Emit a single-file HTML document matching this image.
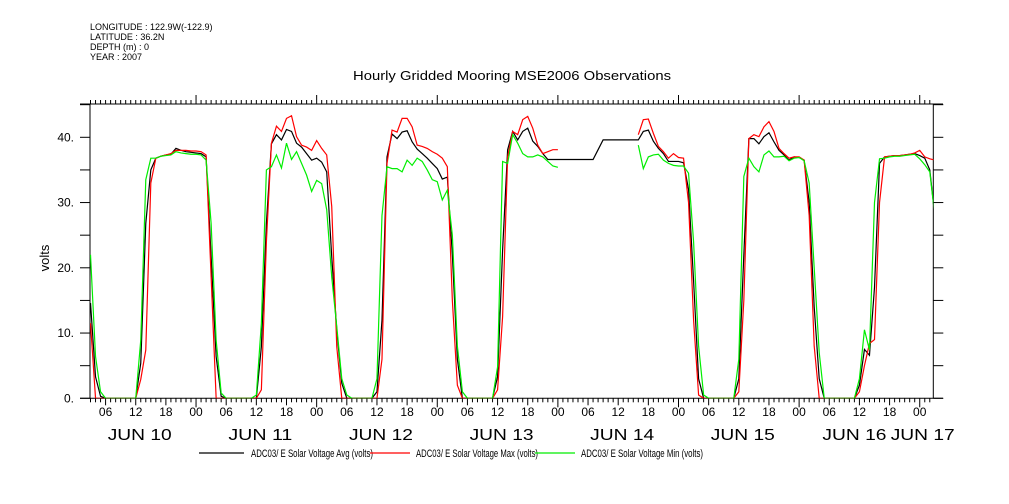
<!DOCTYPE html>
<html><head><meta charset="utf-8"><style>
html,body{margin:0;padding:0;background:#fff;}
svg{display:block;font-family:"Liberation Sans",sans-serif;}
</style></head><body>
<svg id="chart" width="1009" height="504" viewBox="0 0 1009 504" xmlns="http://www.w3.org/2000/svg">
<g font-size="9" fill="#000">
<text x="90" y="30">LONGITUDE : 122.9W(-122.9)</text>
<text x="90" y="40">LATITUDE : 36.2N</text>
<text x="90" y="50">DEPTH (m) : 0</text>
<text x="90" y="60">YEAR : 2007</text>
</g>
<text x="353" y="80" font-size="13" textLength="318" lengthAdjust="spacingAndGlyphs">Hourly Gridded Mooring MSE2006 Observations</text>
<text transform="translate(49,258) rotate(-90)" text-anchor="middle" font-size="13">volts</text>
<defs><clipPath id="plotclip"><rect x="90" y="104" width="843.3" height="294.3"/></clipPath></defs>
<g id="axes"></g>
<g id="series" clip-path="url(#plotclip)"></g>
<g font-size="11">
<line x1="199" y1="453" x2="244" y2="453" stroke="#000" stroke-width="1.3"/>
<text x="251" y="457" textLength="122" lengthAdjust="spacingAndGlyphs">ADC03/ E Solar Voltage Avg (volts)</text>
<line x1="370" y1="453" x2="410" y2="453" stroke="#f00" stroke-width="1.3"/>
<text x="416" y="457" textLength="122" lengthAdjust="spacingAndGlyphs">ADC03/ E Solar Voltage Max (volts)</text>
<line x1="535" y1="453" x2="575" y2="453" stroke="#0e0" stroke-width="1.3"/>
<text x="581" y="457" textLength="122" lengthAdjust="spacingAndGlyphs">ADC03/ E Solar Voltage Min (volts)</text>
</g>
</svg>
<script>
const startHour = 0; // hours since JUN 10 00:00 of first value; one row per day
const avgValues = [
null,null,null,14.6,3.3,0.3,0,0,0,0,0,0,0,5.4,26.8,35,36.8,37.1,37.3,37.4,38.3,38.0,37.8,37.7,
37.6,37.5,37.0,21.7,6.4,0.3,0,0,0,0,0,0,0,7.9,26.8,39.0,40.4,39.6,41.2,40.9,39.1,38.5,37.5,36.5,
36.8,36.2,34.7,21.7,10.5,2.3,0,0,0,0,0,0,1,12,37,40.5,39.8,40.8,41.0,39.3,38.2,37.5,36.8,36.0,
35.2,33.6,33.9,22,6,0,0,0,0,0,0,0,3.3,22.7,38.1,40.9,39.6,40.9,41.4,39.4,38.6,37.5,36.6,36.6,
36.6,36.6,36.6,36.6,36.6,36.6,36.6,36.6,38.1,39.6,39.6,39.6,39.6,39.6,39.6,39.6,39.6,40.9,41.1,39.4,38.3,37.5,36.3,36.3,
36.3,36.1,32,18,3,0,0,0,0,0,0,0,3,22,39.8,39.8,39.0,40.1,40.7,39.3,38.0,37.3,36.5,37.0,
36.9,36.5,30,14,3,0,0,0,0,0,0,0,2,7.5,6.6,17,36,37,37.1,37.2,37.2,37.3,37.4,37.5,
37.2,36.8,35.0,28];
const maxValues = [
null,null,null,11.5,0,0,0,0,0,0,0,0,0,2.9,7.4,33,36.8,37.1,37.3,37.5,38.0,38.0,38.0,37.9,
37.9,37.8,37.3,18.6,0,0,0,0,0,0,0,0,0,1.3,24,39.1,41.7,40.9,42.9,43.3,40.1,38.8,38.5,38.0,
39.5,38.3,37.3,29.4,7.9,0,0,0,0,0,0,0,0,6,36,41.1,40.8,42.9,42.9,41.6,38.8,38.6,38.3,37.8,
37.4,36.8,35.5,15,2,0,0,0,0,0,0,0,1.3,12.5,37,40.9,40.4,42.7,43.2,41.4,38.8,37.5,37.8,38.1,
38.1,null,null,null,null,null,null,null,null,null,null,null,null,null,null,null,40.4,42.7,42.8,40.6,38.6,37.8,36.8,37.5,
36.9,36.8,30,12,0.5,0,0,0,0,0,0,0,1,15,39.8,40.4,40.1,41.6,42.4,40.9,38.3,37.5,36.8,37.0,
37.0,36.5,28,8,0,0,0,0,0,0,0,0,1,5,8.4,9,30,37,37.1,37.2,37.2,37.3,37.4,37.6,
38.0,37.0,36.7,36.5];
const minValues = [
null,null,null,22,6.4,1,0,0,0,0,0,0,0,8.9,33.5,36.8,36.8,37.1,37.2,37.3,37.8,37.6,37.5,37.4,
37.4,37.3,36.5,26.8,8.9,0.8,0,0,0,0,0,0,0.5,11.5,35,35.5,37.3,35.3,39.1,36.6,37.8,36.0,34.2,31.7,
33.4,32.9,28.9,18.6,11,3,0.5,0,0,0,0,0,3,28,35.5,35.2,35.2,34.7,36.5,35.7,36.8,36.3,35.0,33.5,
33.2,30.4,31.9,25,8,1,0,0,0,0,0,0,4.8,36.3,36,40.4,39.1,37.5,37.0,37.0,37.3,37.0,36.3,35.6,
35.4,null,null,null,null,null,null,null,null,null,null,null,null,null,null,null,38.8,35.2,37.0,37.3,37.4,36.5,36.0,35.7,
35.6,35.6,34.5,24,8,0.5,0,0,0,0,0,0,6,34,36.8,35.5,34.7,37.3,37.9,37.0,37.0,37.1,36.4,36.8,
36.9,36.4,33,20,7,0,0,0,0,0,0,0,3,10.5,7.4,30,36.7,36.8,37.0,37.1,37.1,37.2,37.3,37.4,
36.7,35.8,34.7,28];
const yTickValues = [0,10,20,30,40];
const yTickLabels = ["0.","10.","20.","30.","40."];
const hourLabels = ["06","12","18","00"];
const dayLabels = ["JUN 10","JUN 11","JUN 12","JUN 13","JUN 14","JUN 15","JUN 16","JUN 17"];

const NS="http://www.w3.org/2000/svg";
const X0=90,X1=933.3,Y0=398.3,YT=104;
const hMin=2.9,hMax=170.7;
function xs(h){return X0+(h-hMin)*(X1-X0)/(hMax-hMin);}
function ys(v){return Y0-v*6.525;}
function mk(tag,attrs,parent){const e=document.createElementNS(NS,tag);for(const k in attrs)e.setAttribute(k,attrs[k]);parent.appendChild(e);return e;}
const axes=document.getElementById('axes');
const series=document.getElementById('series');
let e;
e=mk('line',{x1:80,y1:YT,x2:943,y2:YT,stroke:'#000'},axes);


e=mk('line',{x1:80,y1:Y0,x2:943,y2:Y0,stroke:'#000'},axes);


e=mk('line',{x1:X0,y1:YT,x2:X0,y2:Y0,stroke:'#000'},axes);


e=mk('line',{x1:X1,y1:YT,x2:X1,y2:Y0,stroke:'#000'},axes);


for(let v=0;v<=45;v+=5){
  const y=ys(v);
  e=mk('line',{x1:X0-10,y1:y,x2:X0,y2:y,stroke:'#000'},axes);
  
  
  e=mk('line',{x1:X1,y1:y,x2:X1+10,y2:y,stroke:'#000'},axes);
  
  
}
yTickValues.forEach((v,i)=>{
  e=mk('text',{x:74,y:ys(v)+4,'text-anchor':'end','font-size':12},axes);
  e.textContent=yTickLabels[i];
  
  
});
for(let h=3;h<=170;h++){
  const x=xs(h);
  const isDay=h%24===0, is6=h%6===0;
  e=mk('line',{x1:x,y1:YT,x2:x,y2:YT-(isDay?9:4),stroke:'#000'},axes);
  
  
  e=mk('line',{x1:x,y1:Y0,x2:x,y2:Y0+(isDay?9:(is6?7:4)),stroke:'#000'},axes);
  
  
  if(is6){
    e=mk('text',{x:x,y:416,'text-anchor':'middle','font-size':12},axes);
    e.textContent=hourLabels[(h/6-1)%4];
    
    
  }
}
dayLabels.forEach((d,i)=>{
  let x=xs(12+24*i)+4;
  if(i===dayLabels.length-2)x=xs(12+24*i)-5;
  if(i===dayLabels.length-1)x=xs(24*i)+3;
  e=mk('text',{x:x-32,y:440,'font-size':16,textLength:64,lengthAdjust:'spacingAndGlyphs'},axes);
  e.textContent=d;
  
  
});
function path(vals){
  let d='',pen=false;
  vals.forEach((v,i)=>{
    if(v===null){pen=false;return;}
    d+=(pen?'L':'M')+xs(startHour+i).toFixed(2)+' '+ys(v).toFixed(2)+' ';
    pen=true;
  });
  return d;
}
e=mk('path',{d:path(avgValues),fill:'none',stroke:'#000','stroke-width':1.2},series);


e=mk('path',{d:path(maxValues),fill:'none',stroke:'#f00','stroke-width':1.2},series);


e=mk('path',{d:path(minValues),fill:'none',stroke:'#0e0','stroke-width':1.2},series);


</script>
</body></html>
